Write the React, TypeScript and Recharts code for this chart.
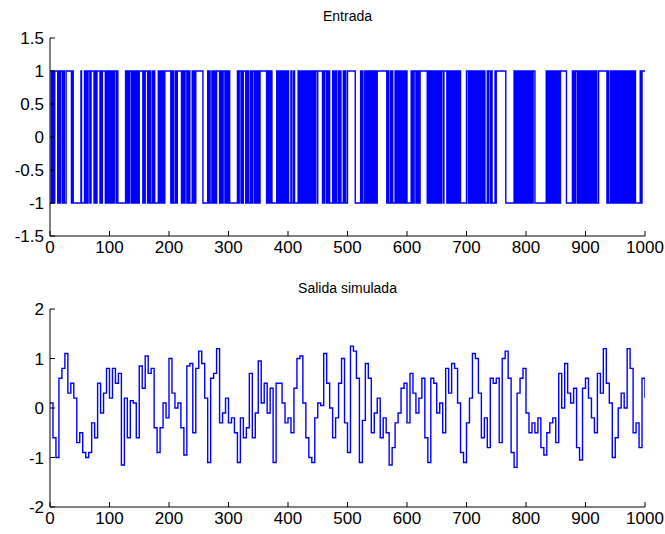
import { LineChart, Line, XAxis, YAxis } from 'recharts';

const xTicks = [0, 100, 200, 300, 400, 500, 600, 700, 800, 900, 1000];
const entradaTicks = [-1.5, -1, -0.5, 0, 0.5, 1, 1.5];
const salidaTicks = [-2, -1, 0, 1, 2];

// input signal: lengths of the constant runs (samples), first run at -1
const entradaStart = -1;
const entradaRuns = [
  2, 2, 1, 2, 1, 5,
  2, 1, 2, 3, 1, 2, 3, 9,
  2, 1, 13,
  1, 5, 2, 1, 2, 1, 3, 2, 5,
  1, 2, 2, 5,
  1, 2, 1, 5,
  2, 1, 1, 2, 1, 1, 2, 1, 2, 1, 1, 3, 1, 2, 13,
  1, 1, 2, 1, 1, 1, 3, 1, 2, 1, 1, 2, 1, 1, 2, 2, 6,
  2, 1, 1, 4, 1, 2, 1, 1, 3, 1, 1, 2, 6, 1, 1, 2, 1, 1, 2, 1, 2, 10,
  1, 2, 1, 1, 3, 1, 2, 7, 1, 1, 2, 1, 1, 3, 1, 2, 1, 1, 4, 2, 1, 1, 2, 12, 8,
  2, 1, 1, 3, 1, 2, 1, 1, 1, 2, 5, 1, 1, 2, 1, 1, 3, 2, 1, 1, 2, 1, 1, 13,
  2, 1, 3, 1, 1, 2, 4, 1, 2, 1, 1, 3, 1, 2, 3, 2, 1, 1, 2, 1, 1, 2, 11,
  1, 2, 1, 1, 2, 2, 8,
  1, 1, 1, 2, 1, 1, 1, 1, 2, 1, 1, 1, 1, 1, 2, 1, 1, 4, 1, 3, 2, 6, 1, 2,
  1, 1, 2, 1, 1, 1, 1, 1, 2, 1, 1, 1, 1, 2, 1, 1, 1, 1, 2, 1, 1, 1, 3, 1, 8,
  1, 2, 1, 3, 1, 1, 2, 1, 5, 1, 2, 1, 1, 2, 3, 1, 1, 2, 4, 1, 2, 1, 3, 13, 9,
  2, 1, 1, 3, 1, 2, 1, 1, 1, 1, 1, 1, 1, 2, 1, 1, 1, 1, 1, 2, 1, 1, 16,
  2, 1, 3, 1, 1, 2, 4, 1, 1, 1, 1, 1, 1, 2, 1, 1, 1, 1, 1, 1, 1, 1, 2, 2, 7,
  1, 1, 2, 1, 3, 1, 1, 2, 1, 2, 12,
  2, 1, 1, 1, 1, 1, 1, 2, 1, 1, 1, 1, 1, 1, 2, 1, 1, 1, 1, 1, 1, 3, 1, 5, 2, 1,
  1, 1, 1, 2, 1, 1, 1, 1, 1, 1, 1, 1, 1, 1, 1, 1, 2, 1, 10,
  3, 1, 2, 1, 1, 1, 1, 1, 1, 1, 2, 1, 1, 1, 1, 1, 1, 1, 1, 2, 1, 1, 1,
  2, 1, 4, 1, 1, 3, 2, 1, 5, 1, 1, 16, 14,
  2, 1, 1, 1, 1, 1, 2, 1, 1, 1, 1, 1, 1, 2, 1, 1, 1, 1, 1, 1, 2, 1, 1, 1, 1, 1, 1, 1, 3, 19,
  2, 1, 1, 1, 1, 1, 1, 2, 1, 1, 1, 1, 1, 1, 2, 1, 1, 2, 1, 1, 10,
  10, 1, 2, 1, 1, 3, 1, 2, 1, 1,
  1, 1, 1, 1, 2, 1, 1, 1, 1, 1, 1, 2, 1, 1, 1, 1, 1, 1, 2, 1, 1, 1, 1, 2, 3, 14,
  2, 1, 3, 1, 1, 2, 1,
  1, 1, 1, 1, 2, 1, 1, 1, 1, 1, 1, 1, 2, 1, 1, 1, 1, 1, 1, 1, 2, 1, 1, 1, 1, 1, 1, 1, 1, 1,
  1, 2, 1, 8, 2, 1, 5,
];

// simulated output, read every 5 samples
const salidaStep = 5;
const salida = [
  0.1, -0.6, -1.0, 0.6, 0.8, 1.1, 0.3, 0.5, 0.2, -0.7, -0.5, -0.9, -1.0, -0.9, -0.3, -0.6, 0.5, -0.1, 0.3, 0.8,
  0.2, 0.8, 0.5, 0.7, -1.15, 0.2, -0.6, 0.15, 0.1, -0.6, 0.85, 0.4, 1.05, 0.7, 0.8, -0.4, -0.9, -0.4, 0.1, -0.2,
  1.0, 0.3, 0.0, 0.1, -0.4, -0.95, 0.85, 0.9, -0.5, 0.8, 1.15,
  0.9, 0.2, -1.1, 0.6, 0.7, 1.2, -0.3, -0.1, 0.2, -0.3, -0.2, -0.5, -1.1, -0.2, -0.6, -0.4, 0.7, -0.6, -0.1,
  0.95, 0.1, 0.5, -0.1, 0.4, -1.1, 0.5, 0.5, 0.1, -0.3, -0.2, -0.5, 0.4, 1.0, 1.05, 0.1, -0.6, -1.0, -1.1, -0.2,
  0.1, 0.05, 1.1, 0.5, 0.0, -0.6, -0.2, 0.5, 1.0, -0.3, -0.9,
  1.25, 1.15, 0.6, -1.1, -0.25, 0.9, 0.6, -0.5, -0.1, 0.2, -0.6, -0.2, -0.5, -1.15, -0.8, -0.3, -0.1, 0.4, 0.5,
  -0.3, 0.7, 0.3, -0.1, 0.2, 0.6, -0.6, -1.1, 0.6, 0.5, -0.1, 0.1, -0.5, 0.8, 0.3, 0.9, 0.8, 0.1, -0.9, -1.1,
  -0.3, 0.2, 1.1, 1.0, 0.3, -0.6, -0.2, -0.8, 0.6, 0.5, 0.6,
  -0.7, 1.0, 1.15, 0.6, -0.9, -1.2, 0.3, 0.6, 0.8, -0.1, -0.5, -0.3, -0.5, -0.2, -0.8, -0.95, -0.5, -0.3, -0.2,
  -0.7, 0.7, 0.0, 0.9, 0.3, 0.1, 0.4, -0.8, -1.05, 0.4, 0.6, 0.2, -0.2, -0.5, 0.7, 0.3, 1.2, 0.5, 0.1, -1.0,
  -0.6, 0.0, 0.3, 0.0, 1.2, 0.8, -0.5, -0.3, -0.8, 0.6, 0.2,
];

const entradaData: { t: number; u: number }[] = [];
{
  let t = 0;
  let u = entradaStart;
  for (const r of entradaRuns) {
    if (t >= 1000) break;
    entradaData.push({ t, u });
    t += r;
    u = -u;
  }
  entradaData.push({ t: 1000, u: entradaData[entradaData.length - 1].u });
}

const salidaData = salida.map((y, i) => ({ t: i * salidaStep, y }));

const FONT = '"Liberation Sans", Arial, sans-serif';
const TICK_FONT = '"Liberation Sans Narrow", "Liberation Sans", Arial, sans-serif';
const TICK = 5;
const LABEL_SIZE = 17;

const BottomTick = (props: any) => {
  const { x, y, payload } = props;
  return (
    <g>
      <line x1={x} y1={y - 3} x2={x} y2={y - 3 - TICK} stroke="#000" />
      <text x={x} y={y} dy={14} textAnchor="middle" fontSize={LABEL_SIZE} fontFamily={TICK_FONT} fill="#000">
        {payload.value}
      </text>
    </g>
  );
};

const TopTick = (props: any) => {
  const { x, y } = props;
  return <line x1={x} y1={y} x2={x} y2={y + TICK} stroke="#000" />;
};

const LeftTick = (props: any) => {
  const { x, y, payload } = props;
  return (
    <g>
      <line x1={x + 6} y1={y} x2={x + 6 + TICK} y2={y} stroke="#000" />
      <text x={x} y={y} dy={6} textAnchor="end" fontSize={LABEL_SIZE} fontFamily={TICK_FONT} fill="#000">
        {payload.value}
      </text>
    </g>
  );
};

const RightTick = (props: any) => {
  const { x, y } = props;
  return <line x1={x} y1={y} x2={x - TICK} y2={y} stroke="#000" />;
};

interface PanelProps {
  data: { [k: string]: number }[];
  dataKey: string;
  yDomain: [number, number];
  yTicks: number[];
  height: number;
  xAxisHeight: number;
  bottom: number;
}

const Panel = ({ data, dataKey, yDomain, yTicks, height, xAxisHeight, bottom }: PanelProps) => (
  <LineChart width={665} height={height} data={data} margin={{ top: 38, right: 20, left: 6, bottom }}>
    <XAxis
      dataKey="t"
      type="number"
      domain={[0, 1000]}
      ticks={xTicks}
      allowDataOverflow
      height={xAxisHeight}
      tickSize={0}
      tickMargin={3}
      tick={<BottomTick />}
      axisLine={{ stroke: '#000' }}
      interval={0}
    />
    <XAxis
      xAxisId="top"
      orientation="top"
      dataKey="t"
      type="number"
      domain={[0, 1000]}
      ticks={xTicks}
      allowDataOverflow
      height={0}
      tickSize={0}
      tickMargin={0}
      tick={<TopTick />}
      axisLine={{ stroke: '#000' }}
      interval={0}
    />
    <YAxis
      type="number"
      domain={yDomain}
      ticks={yTicks}
      allowDataOverflow
      width={44}
      tickSize={0}
      tickMargin={6}
      tick={<LeftTick />}
      axisLine={{ stroke: '#000' }}
      interval={0}
    />
    <YAxis
      yAxisId="right"
      orientation="right"
      type="number"
      domain={yDomain}
      ticks={yTicks}
      allowDataOverflow
      width={0}
      tickSize={0}
      tickMargin={0}
      tick={<RightTick />}
      axisLine={{ stroke: '#000' }}
      interval={0}
    />
    <Line
      type="stepAfter"
      dataKey={dataKey}
      stroke="#0000ff"
      strokeWidth={1.4}
      dot={false}
      isAnimationActive={false}
    />
  </LineChart>
);

const titleStyle: React.CSSProperties = {
  position: 'absolute',
  left: 50,
  width: 595,
  textAlign: 'center',
  fontFamily: FONT,
  fontSize: 14,
  color: '#000',
};

export default function App() {
  return (
    <div style={{ position: 'absolute', left: 0, top: 0, width: 665, height: 534, background: '#fff' }}>
      <div style={{ ...titleStyle, top: 8 }}>Entrada</div>
      <div style={{ position: 'absolute', left: 0, top: 0 }}>
        <Panel
          data={entradaData}
          dataKey="u"
          yDomain={[-1.5, 1.5]}
          yTicks={entradaTicks}
          height={270}
          xAxisHeight={30}
          bottom={4}
        />
      </div>
      <div style={{ ...titleStyle, top: 280 }}>Salida simulada</div>
      <div style={{ position: 'absolute', left: 0, top: 271 }}>
        <Panel
          data={salidaData}
          dataKey="y"
          yDomain={[-2, 2]}
          yTicks={salidaTicks}
          height={263}
          xAxisHeight={25}
          bottom={2}
        />
      </div>
    </div>
  );
}
